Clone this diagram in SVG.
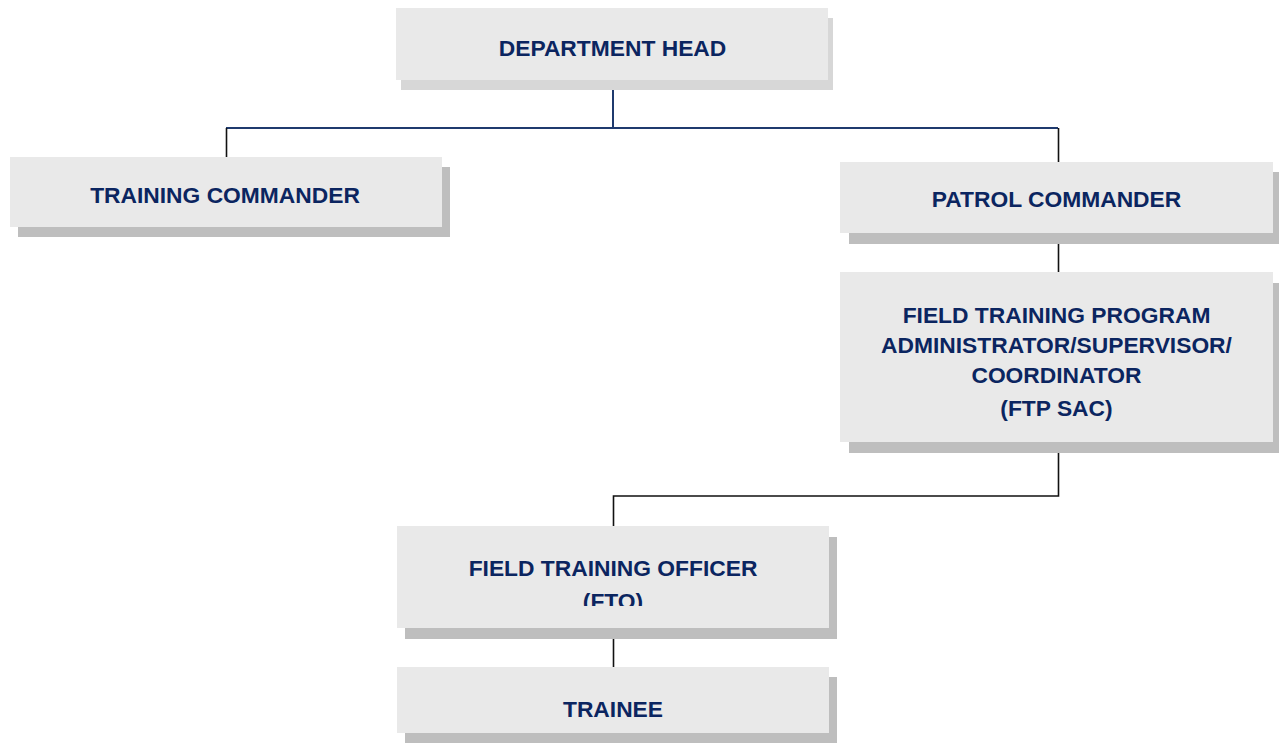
<svg xmlns="http://www.w3.org/2000/svg" width="1279" height="743" viewBox="0 0 1279 743">
<style>
.box{fill:#e9e9e9}
.sh{fill:#bebebe}
.sh2{fill:#d7d7d7}
.t{font-family:"Liberation Sans",Arial,sans-serif;font-weight:bold;font-size:22.8px;fill:#0b2560;text-anchor:middle}
.ln{stroke:#111;stroke-width:1.6;fill:none}
.nv{stroke:#1f3a6e;stroke-width:2;fill:none}
</style>
<defs>
<clipPath id="ftoClip"><rect x="397" y="526" width="432" height="80"/></clipPath>
</defs>
<g id="connectors">
<line class="nv" x1="613" y1="90" x2="613" y2="128"/>
<line class="nv" x1="226" y1="128" x2="1058" y2="128"/>
<line class="ln" x1="226.5" y1="128" x2="226.5" y2="157"/>
<line class="ln" x1="1058.5" y1="128" x2="1058.5" y2="162"/>
<line class="ln" x1="1058.5" y1="243" x2="1058.5" y2="272"/>
<polyline class="ln" points="1058.5,453 1058.5,496 613.5,496 613.5,526"/>
<line class="ln" x1="613.5" y1="639" x2="613.5" y2="667"/>
</g>
<g id="department-head">
<rect class="sh2" x="401" y="18" width="432" height="72"/>
<rect class="box" x="396" y="8" width="432" height="72"/>
<text class="t" x="612.5" y="56">DEPARTMENT HEAD</text>
</g>
<g id="training-commander">
<rect class="sh" x="18" y="167" width="432" height="70"/>
<rect class="box" x="10" y="157" width="432" height="70"/>
<text class="t" x="225" y="203">TRAINING COMMANDER</text>
</g>
<g id="patrol-commander">
<rect class="sh" x="849" y="172" width="432" height="72"/>
<rect class="box" x="840" y="162" width="433" height="71"/>
<text class="t" x="1056.5" y="207">PATROL COMMANDER</text>
</g>
<g id="ftp-sac">
<rect class="sh" x="849" y="283" width="432" height="170"/>
<rect class="box" x="840" y="272" width="433" height="170"/>
<text class="t" x="1056.5" y="322.5">FIELD TRAINING PROGRAM</text>
<text class="t" x="1056.5" y="352.5">ADMINISTRATOR/SUPERVISOR/</text>
<text class="t" x="1056.5" y="382.5">COORDINATOR</text>
<text class="t" x="1056.5" y="416">(FTP SAC)</text>
</g>
<g id="fto">
<rect class="sh" x="405" y="537" width="432" height="102"/>
<rect class="box" x="397" y="526" width="432" height="102"/>
<text class="t" x="613" y="575.5">FIELD TRAINING OFFICER</text>
<text class="t" x="613" y="609" clip-path="url(#ftoClip)">(FTO)</text>
</g>
<g id="trainee">
<rect class="sh" x="405" y="677" width="432" height="70"/>
<rect class="box" x="397" y="667" width="432" height="66"/>
<text class="t" x="613" y="716.5">TRAINEE</text>
</g>
</svg>
